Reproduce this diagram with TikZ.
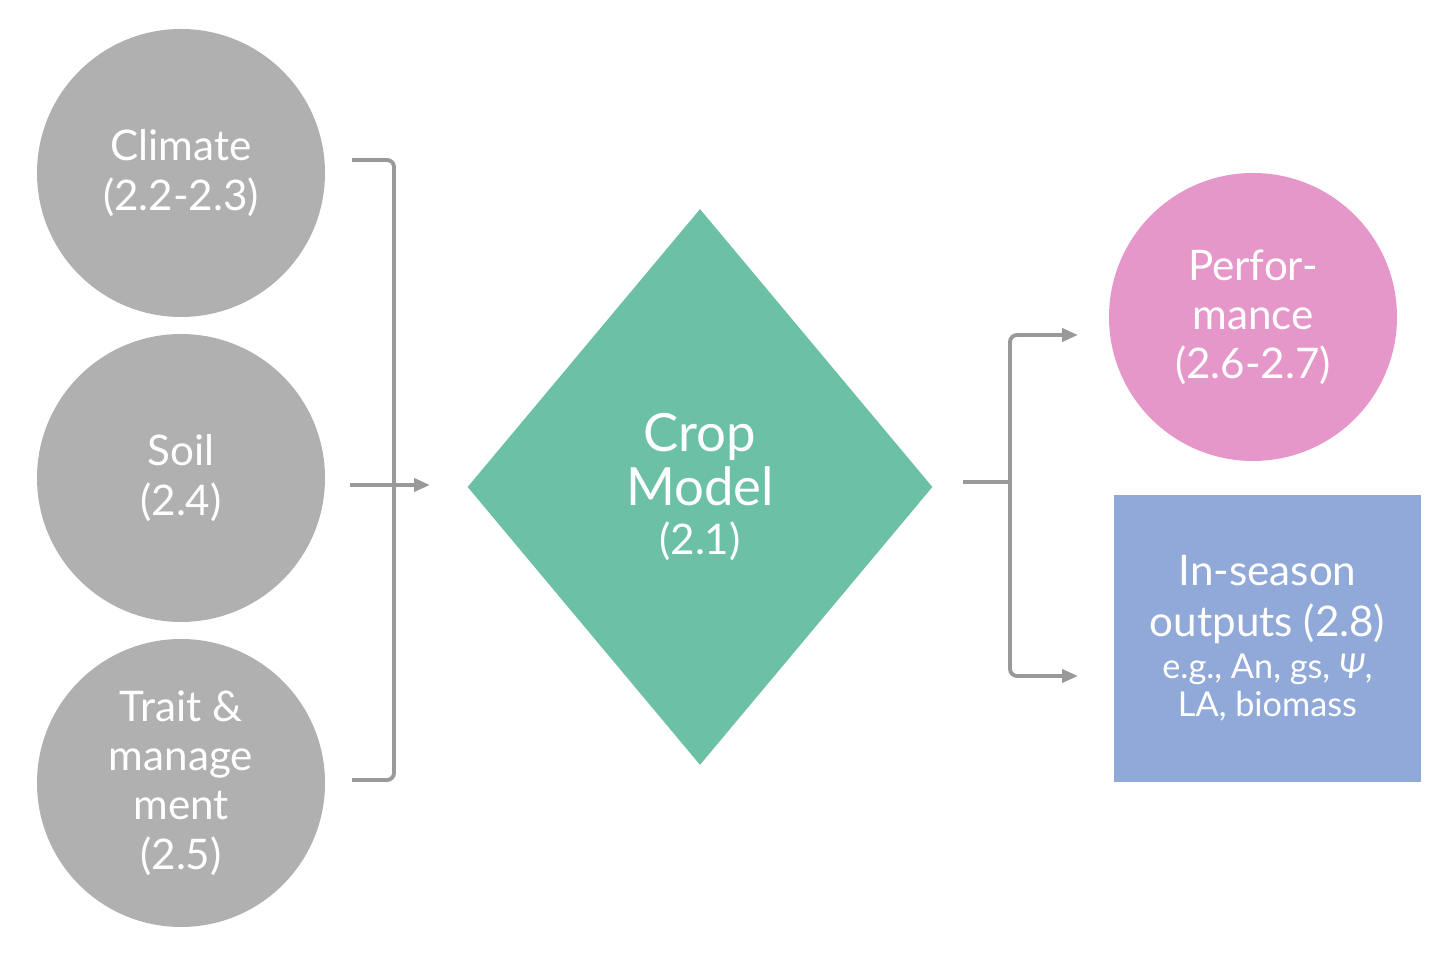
\documentclass[tikz,border=0pt]{standalone}
\usepackage{fontspec}
\setmainfont{Lato}
\usepackage{tikz}
\usetikzlibrary{shapes.geometric, arrows.meta}

\definecolor{inputgray}{HTML}{B0B0B0}
\definecolor{modelgreen}{HTML}{6BC0A5}
\definecolor{perfpink}{HTML}{E697C9}
\definecolor{outblue}{HTML}{91A9D8}
\definecolor{linegray}{HTML}{999999}

\begin{document}
\begin{tikzpicture}
  % Define styles
  \tikzstyle{inputnode} = [circle, fill=inputgray, text=white, minimum size=5.76cm, inner sep=0pt, align=center, font=\fontsize{24}{28}\selectfont]
  \tikzstyle{model} = [diamond, fill=modelgreen, text=white, minimum width=9.3cm, minimum height=11.12cm, inner sep=0pt, align=center, font=\fontsize{30}{31}\selectfont]
  \tikzstyle{result} = [circle, fill=perfpink, text=white, minimum size=5.76cm, inner sep=0pt, align=center, font=\fontsize{24}{28}\selectfont]
  \tikzstyle{outbox} = [rectangle, fill=outblue, text=white, minimum width=6.14cm, minimum height=5.74cm, inner sep=0pt, align=center, font=\fontsize{24}{29}\selectfont]
  \tikzstyle{line} = [draw=linegray, line width=2.2pt, rounded corners=4pt]
  \tikzstyle{arrow} = [line, -{Triangle[length=0.32cm, width=0.26cm]}]

  \useasboundingbox (0,0) rectangle (29.04,19.12);

  % Inputs
  \node[inputnode] (climate) at (3.62,15.66) {Climate\\(2.2-2.3)};
  \node[inputnode] (soil) at (3.62,9.56) {Soil\\(2.4)};
  \node[inputnode] (trait) at (3.62,3.46) {Trait \&\\manage\\ment\\(2.5)};

  % Crop model
  \node[model] (crop) at (14.0,9.38) {Crop\\Model\\[-3pt]{\fontsize{24}{28}\selectfont (2.1)}};

  % Outputs
  \node[result] (perf) at (25.06,12.78) {Perfor-\\mance\\(2.6-2.7)};
  \node[outbox] (inseason) at (25.35,6.35) {In-season\\outputs (2.8)\\[-5pt]{\fontsize{19.5}{21.5}\selectfont e.g., An, gs, {\itshape Ψ},}\\[-7.5pt]{\fontsize{19.5}{21.5}\selectfont LA, biomass}};

  % Bracket points
  \coordinate (climtip) at (7.04,15.92);
  \coordinate (traittip) at (7.04,3.52);
  \coordinate (lefttop) at (7.88,15.92);
  \coordinate (leftbot) at (7.88,3.52);
  \coordinate (soiltip) at (7.0,9.42);
  \coordinate (cropin) at (8.6,9.42);
  \coordinate (cropout) at (19.26,9.48);
  \coordinate (rjoin) at (20.2,9.48);
  \coordinate (perftip) at (21.56,12.42);
  \coordinate (insttip) at (21.56,5.6);

  % Connections - inputs
  \draw[line] (climtip) -- (lefttop) -- (leftbot) -- (traittip);
  \draw[arrow] (soiltip) -- (cropin);

  % Connections - outputs
  \draw[line] (cropout) -- (rjoin);
  \draw[arrow] (rjoin) |- (perftip);
  \draw[arrow] (rjoin) |- (insttip);

\end{tikzpicture}
\end{document}
